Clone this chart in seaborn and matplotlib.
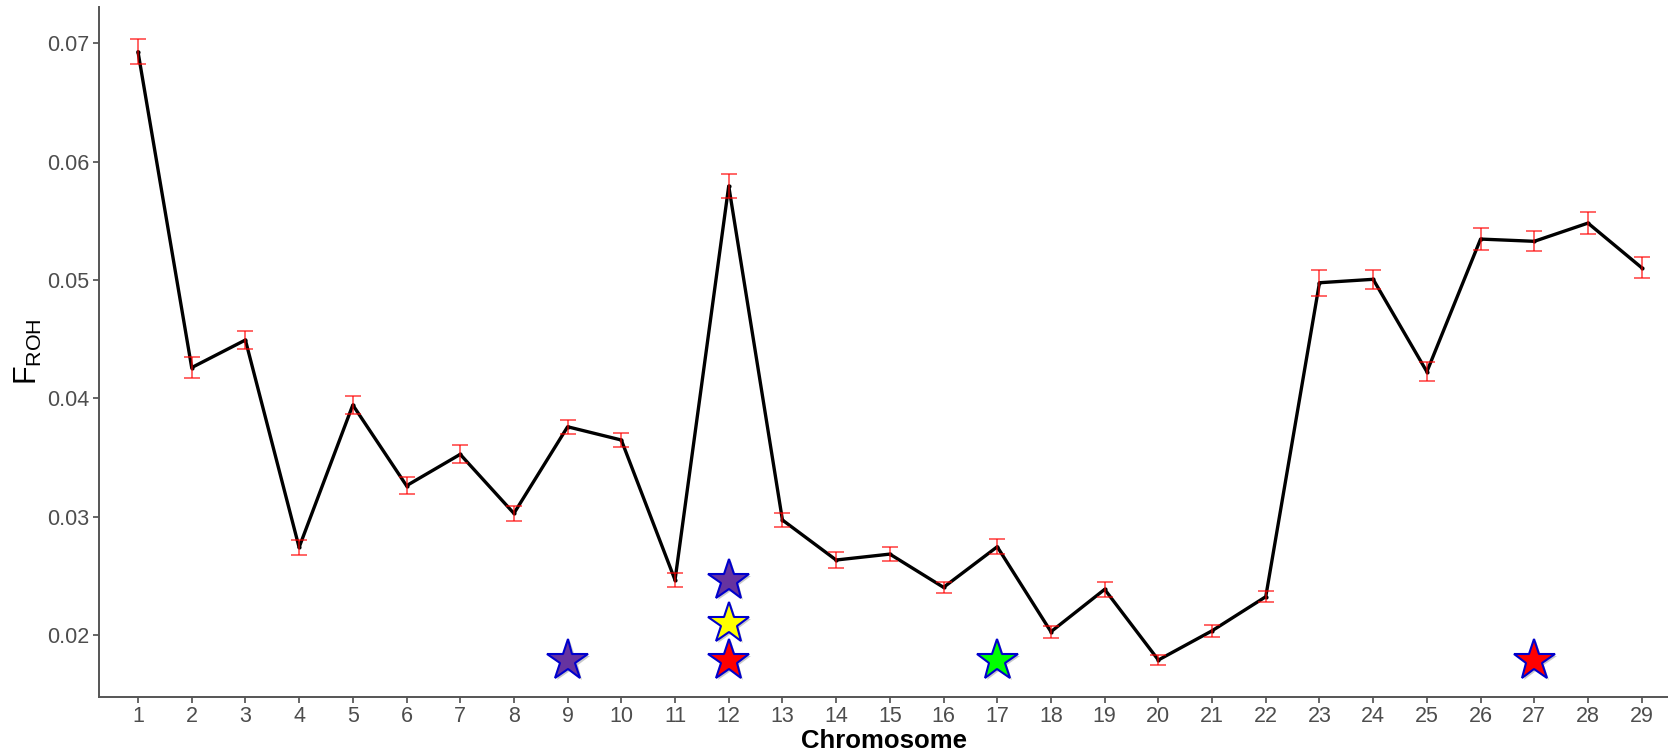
import matplotlib
matplotlib.use("Agg")
import matplotlib.pyplot as plt
import matplotlib.patheffects as pe
import seaborn as sns
import pandas as pd

chromosomes = list(range(1, 30))
froh = [0.06929, 0.04260, 0.04493, 0.02741, 0.03944, 0.03262, 0.03527, 0.03028,
        0.03760, 0.03648, 0.02465, 0.05794, 0.02972, 0.02634, 0.02684, 0.02403,
        0.02746, 0.02028, 0.02386, 0.01789, 0.02036, 0.02324, 0.04977, 0.05006,
        0.04225, 0.05346, 0.05327, 0.05481, 0.05104]
froh_se = [0.00107, 0.00090, 0.00077, 0.00063, 0.00078, 0.00072, 0.00077, 0.00065,
           0.00060, 0.00063, 0.00056, 0.00099, 0.00060, 0.00068, 0.00062, 0.00049,
           0.00065, 0.00050, 0.00063, 0.00042, 0.00052, 0.00046, 0.00108, 0.00082,
           0.00080, 0.00096, 0.00085, 0.00096, 0.00090]

star_chrom = [9, 12, 12, 12, 17, 27]
star_y = [0.01784, 0.01784, 0.02098, 0.02458, 0.01784, 0.01784]
star_color = ["#6633A0", "#FF0000", "#FFFF00", "#6633A0", "#00FF00", "#FF0000"]

y_ticks = [0.02, 0.03, 0.04, 0.05, 0.06, 0.07]

df = pd.DataFrame({"Chromosome": chromosomes, "FROH": froh, "SE": froh_se})
stars = pd.DataFrame({"Chromosome": star_chrom, "y": star_y, "c": star_color})

sns.set_style("ticks")
plt.rcParams["font.family"] = ["Liberation Sans", "DejaVu Sans"]

fig = plt.figure(figsize=(16.68, 7.52), dpi=100)
ax = fig.add_axes([99 / 1668, 1 - 696.7 / 752, 1 - 99 / 1668, (696.7 - 7) / 752])

sns.lineplot(data=df, x="Chromosome", y="FROH", color="black", linewidth=2.4,
             marker="o", markersize=3, markeredgewidth=0, ax=ax, zorder=3)
ax.errorbar(df["Chromosome"], df["FROH"], yerr=df["SE"], fmt="none",
            ecolor="#FF0000", alpha=0.65, elinewidth=1.3, capsize=5.5,
            capthick=1.3, zorder=4)

shadow = [pe.SimplePatchShadow(offset=(1.5, -1.5), shadow_rgbFace="#888888", alpha=0.45),
          pe.Normal()]
for _, r in stars.iterrows():
    ax.plot([r["Chromosome"]], [r["y"]], marker="*", markersize=31,
            markerfacecolor=r["c"], markeredgecolor="#0000CC",
            markeredgewidth=1.5, linestyle="none", zorder=5,
            path_effects=shadow)

ax.set_xlim(0.274, 29.49)
ax.set_ylim(0.01479, 0.07307)
ax.set_xticks(chromosomes)
ax.set_xticklabels([str(c) for c in chromosomes])
ax.set_yticks(y_ticks)
ax.set_yticklabels([f"{v:.2f}" for v in y_ticks])
ax.tick_params(axis="both", labelsize=15.5, colors="#4D4D4D", length=4, width=1.2,
               pad=3)
for s in ["left", "bottom"]:
    ax.spines[s].set_color("#555555")
    ax.spines[s].set_linewidth(1.4)
sns.despine(ax=ax)

ax.set_xlabel("Chromosome", fontsize=18.5, fontweight="bold", color="black", labelpad=1)
ax.set_ylabel(r"$\mathregular{F_{ROH}}$", fontsize=22, color="black", labelpad=2)

fig.savefig("out.png", dpi=100)
